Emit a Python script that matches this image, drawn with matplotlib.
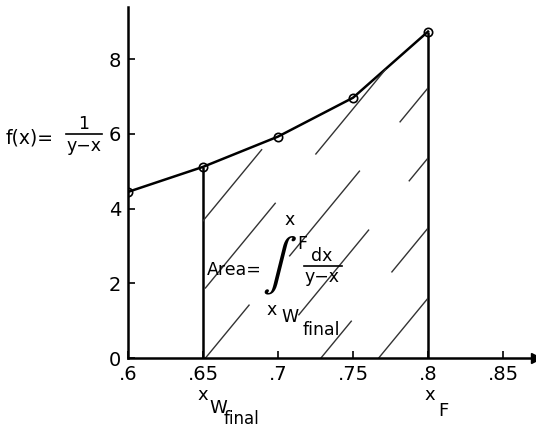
import numpy as np
import matplotlib
matplotlib.use("Agg")
import matplotlib.pyplot as plt

# data
x_pts = [0.60, 0.65, 0.70, 0.75, 0.80]
f_pts = [4.45, 5.12, 5.93, 6.97, 8.74]
x_wfinal = 0.65
x_F = 0.80
xticks = [0.60, 0.65, 0.70, 0.75, 0.80, 0.85]
xticklabels = [".6", ".65", ".7", ".75", ".8", ".85"]
yticks = [0, 2, 4, 6, 8]

plt.rcParams["font.family"] = "DejaVu Sans"
plt.rcParams["lines.scale_dashes"] = False

W, H = 536, 430
fig = plt.figure(figsize=(W / 100, H / 100), dpi=100)
ax = fig.add_axes([0.239, 0.167, 0.761, 0.817])
ax.set_xlim(0.6, 0.872)
ax.set_ylim(0, 9.4)


def px(x, y):
    # pixel position (from top-left) -> figure fraction, for the labels
    return x / W, 1 - y / H


for s in ["top", "right"]:
    ax.spines[s].set_visible(False)
for s in ["left", "bottom"]:
    ax.spines[s].set_linewidth(1.8)

# arrow at the end of x axis
ax.plot(1, 0, ">k", markersize=7, transform=ax.get_yaxis_transform(), clip_on=False)

# curve and points
ax.plot(x_pts, f_pts, "-", color="black", linewidth=1.8)
ax.plot(x_pts, f_pts, "o", mfc="none", mec="black", markersize=6, mew=1.2)

f_w = f_pts[x_pts.index(x_wfinal)]
f_F = f_pts[x_pts.index(x_F)]
ax.vlines([x_wfinal, x_F], 0, [f_w, f_F], color="black", linewidth=1.8)

# hatched area: sparse broken diagonals clipped to the region
xs = [x for x in x_pts if x_wfinal <= x <= x_F]
fs = [f for x, f in zip(x_pts, f_pts) if x_wfinal <= x <= x_F]
poly = ax.fill_between(xs, 0, fs, facecolor="none", edgecolor="none")
clip = poly.get_paths()[0]
slope = 48.7
offsets = [10, 60, 30, 85, 45, 0, 70]
for i, x0 in enumerate(np.arange(0.5745, 0.81, 0.0385)):
    xx = np.array([x0, x0 + 0.25])
    ln, = ax.plot(xx, slope * (xx - x0), color="#333333", linewidth=1.0,
                  linestyle=(offsets[i % len(offsets)], (80, 45)))
    ln.set_clip_path(clip, transform=ax.transData)

ax.set_xticks(xticks)
ax.set_xticklabels(xticklabels)
ax.set_yticks(yticks)
ax.tick_params(direction="in", length=5, width=1.2, labelsize=14, pad=5)

# f(x) = 1/(y-x) label
fig.text(*px(6, 138), "f(x)=", fontsize=13.5, va="center", ha="left")
fig.text(*px(84, 124), "1", fontsize=12.5, va="center", ha="center")
fig.lines.append(plt.Line2D([66 / W, 102 / W], [1 - 134 / H] * 2,
                            transform=fig.transFigure, color="black", linewidth=1.2))
fig.text(*px(84, 146), "y\u2212x", fontsize=12.5, va="center", ha="center")

# Area = integral label
fig.text(*px(207, 270), "Area=", fontsize=12.5, va="center", ha="left")
fig.text(*px(279, 266), r"$\int$", fontsize=37, math_fontfamily="stixsans",
         va="center", ha="center")
fig.text(*px(290, 220), "x", fontsize=12.5, va="center", ha="center")
fig.text(*px(302, 244), "F", fontsize=12.5, va="center", ha="center")
fig.text(*px(322, 256), "dx", fontsize=12.5, va="center", ha="center")
fig.lines.append(plt.Line2D([304 / W, 342 / W], [1 - 266 / H] * 2,
                            transform=fig.transFigure, color="black", linewidth=1.2))
fig.text(*px(322, 277), "y\u2212x", fontsize=12.5, va="center", ha="center")
fig.text(*px(272, 310), "x", fontsize=12.5, va="center", ha="center")
fig.text(*px(290, 317), "W", fontsize=12.5, va="center", ha="center")
fig.text(*px(321, 330), "final", fontsize=12.5, va="center", ha="center")

# x_W_final and x_F under the axis
fig.text(*px(203, 395), "x", fontsize=13, va="center", ha="center")
fig.text(*px(218, 408), "W", fontsize=13, va="center", ha="center")
fig.text(*px(242, 419), "final", fontsize=12, va="center", ha="center")
fig.text(*px(430, 395), "x", fontsize=13, va="center", ha="center")
fig.text(*px(443, 411), "F", fontsize=13, va="center", ha="center")

fig.savefig("out.png", dpi=100)
